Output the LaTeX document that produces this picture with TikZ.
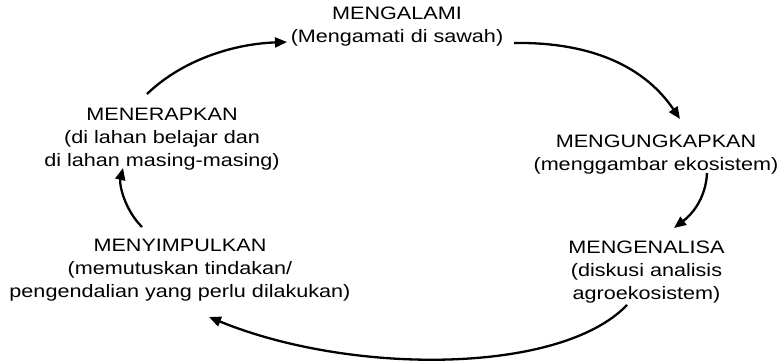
\documentclass[tikz,border=0pt]{standalone}
\usepackage{fontspec}
\setmainfont{Liberation Sans}[FakeStretch=1.2]
\usetikzlibrary{arrows.meta,calc}
\begin{document}
\begin{tikzpicture}[x=1pt,y=-1pt,
  lbl/.style={align=center,inner sep=0pt,anchor=base,font=\fontsize{18}{23}\selectfont},
  flow/.style={line width=2.3pt,-{Triangle[length=12pt,width=10pt]}}]
\useasboundingbox (0,0) rectangle (782,361);
\node[lbl] (alami) at (397,43) {MENGALAMI\\(Mengamati di sawah)};
\node[lbl] (ungkap) at (656,170) {MENGUNGKAPKAN\\(menggambar ekosistem)};
\node[lbl] (analisa) at (646.5,299) {MENGENALISA\\(diskusi analisis\\agroekosistem)};
\node[lbl] (simpul) at (180,297) {MENYIMPULKAN\\(memutuskan tindakan/\\pengendalian yang perlu dilakukan)};
\node[lbl] (terap) at (162,166) {MENERAPKAN\\(di lahan belajar dan\\di lahan masing-masing)};
\draw[flow] ($(terap.base)+(-15,-72)$) .. controls (180,62) and (230,44) .. ($(alami.base)+(-110,-1)$);
\draw[flow] ($(alami.base)+(117,0)$) .. controls (580,42) and (640,60) .. ($(ungkap.base)+(24,-51)$);
\draw[flow] ($(ungkap.base)+(51,3)$) .. controls (706,195) and (695,212) .. ($(analisa.base)+(27.5,-71)$);
\draw[flow] ($(analisa.base)+(-19.5,6)$) .. controls (560,375) and (350,375) .. ($(simpul.base)+(29,20)$);
\draw[flow] ($(simpul.base)+(-38,-70)$) .. controls (125,210) and (119,185) .. ($(terap.base)+(-39,2)$);
\end{tikzpicture}
\end{document}
